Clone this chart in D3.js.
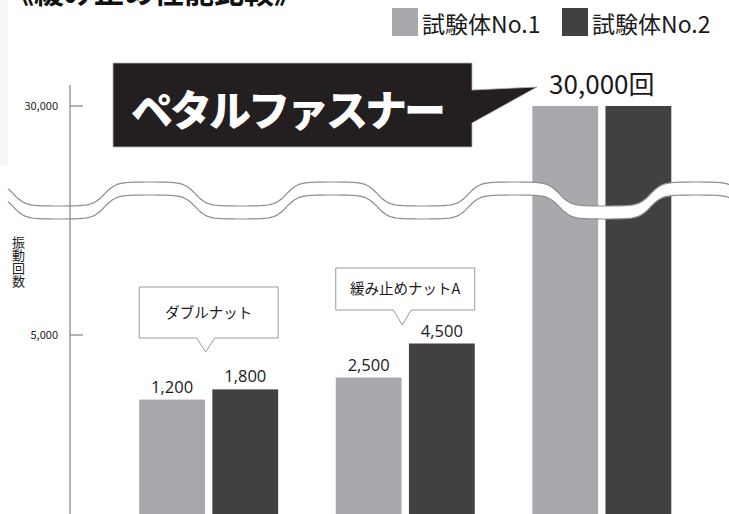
<!DOCTYPE html>
<html>
<head>
<meta charset="utf-8">
<script src="https://cdn.jsdelivr.net/npm/d3@7"></script>
<style>
body { margin: 0; background: #fff; }
svg { display: block; font-family: "Noto Sans CJK JP", "Noto Sans", sans-serif; }
</style>
</head>
<body>
<div id="chart"></div>
<script>
// data
var groups = ["ダブルナット", "緩み止めナットA", "ペタルファスナー"];
var seriesNames = ["試験体No.1", "試験体No.2"];
var no1Values = [1200, 2500, 30000];
var no2Values = [1800, 4500, 30000];
var tickValues = [5000, 30000];
var seriesColors = ["#a7a9ac", "#414042"];
var titleText = "《緩み止め性能比較》";
var axisLabel = "振動回数";
var unitText = "回";

main();

function main() {
    var W = 729, H = 514;
    var fmt = d3.format(",");

    var svg = d3.select("#chart").append("svg")
        .attr("width", W)
        .attr("height", H);

    // faint strip on the left edge of the scan
    svg.append("rect")
        .attr("x", 0).attr("y", 0)
        .attr("width", 8).attr("height", 165)
        .attr("fill", "#f6f6fb");

    // title, mostly cut off at the top (as in the scan)
    svg.append("text")
        .attr("x", 4).attr("y", 3)
        .attr("font-size", 30)
        .attr("font-weight", 700)
        .attr("fill", "#111")
        .text(titleText);

    var x0 = d3.scaleBand().domain(groups)
        .range([110.5, 700]).paddingInner(0.293).paddingOuter(0.146);
    var x1 = d3.scaleBand().domain(seriesNames)
        .range([0, x0.bandwidth()]).paddingInner(0.1);

    // broken axis: lower part and upper part
    var yLow = d3.scaleLinear().domain([0, 5000]).range([420, 335]);
    var yHigh = d3.scaleLinear().domain([20000, 30000]).range([200, 106]);
    function y(v) {
        return v <= 5000 ? yLow(v) : yHigh(v);
    }

    var rows = groups.map(function (g, i) {
        return { group: g, values: [no1Values[i], no2Values[i]] };
    });

    // bars (they run off the bottom of the picture)
    var gGroups = svg.selectAll(".grp")
        .data(rows)
        .enter().append("g")
        .attr("class", "grp")
        .attr("transform", function (d) { return "translate(" + x0(d.group) + ",0)"; });

    gGroups.selectAll("rect")
        .data(function (d) {
            return d.values.map(function (v, j) { return { s: seriesNames[j], v: v, j: j }; });
        })
        .enter().append("rect")
        .attr("x", function (d) { return x1(d.s); })
        .attr("y", function (d) { return y(d.v); })
        .attr("width", x1.bandwidth())
        .attr("height", function (d) { return H + 5 - y(d.v); })
        .attr("fill", function (d) { return seriesColors[d.j]; });

    // value labels for the small bars
    gGroups.filter(function (d) { return d3.max(d.values) <= 5000; })
        .selectAll(".val")
        .data(function (d) {
            return d.values.map(function (v, j) { return { s: seriesNames[j], v: v }; });
        })
        .enter().append("text")
        .attr("class", "val")
        .attr("x", function (d) { return x1(d.s) + x1.bandwidth() / 2; })
        .attr("y", function (d) { return y(d.v) - 7; })
        .attr("text-anchor", "middle")
        .attr("font-family", "'Open Sans', sans-serif")
        .attr("font-size", 16.5)
        .attr("fill", "#1a1a1a")
        .text(function (d) { return fmt(d.v); });

    // big label above the tall pair
    var top = rows[2];
    svg.append("text")
        .attr("x", x0(top.group) + x0.bandwidth() / 2)
        .attr("y", y(d3.max(top.values)) - 12)
        .attr("text-anchor", "middle")
        .attr("font-size", 26)
        .attr("fill", "#1a1a1a")
        .text(fmt(d3.max(top.values)) + unitText);

    // wavy break band
    var waveX = d3.range(8, W + 2, 2);
    function waveY(x) {
        var c = Math.cos(2 * Math.PI * (x - 150) / 182);
        return 194 - 12 * Math.tanh(2.5 * c) / Math.tanh(2.5);
    }
    var band = d3.area()
        .x(function (d) { return d; })
        .y0(function (d) { return waveY(d) + 13; })
        .y1(function (d) { return waveY(d); })
        .curve(d3.curveBasis);
    svg.append("path")
        .attr("d", band(waveX))
        .attr("fill", "#fff");
    var edge = d3.line().curve(d3.curveBasis);
    [0, 13].forEach(function (off) {
        svg.append("path")
            .attr("d", edge(waveX.map(function (x) { return [x, waveY(x) + off]; })))
            .attr("fill", "none")
            .attr("stroke", "#8e8e8e")
            .attr("stroke-width", 1.2);
    });

    // y axis with ticks pointing inward
    var axisX = 70;
    svg.append("line")
        .attr("x1", axisX).attr("x2", axisX)
        .attr("y1", y(d3.max(tickValues)) - 21).attr("y2", H)
        .attr("stroke", "#8a8a8a")
        .attr("stroke-width", 1.3);
    var ticks = svg.selectAll(".tick")
        .data(tickValues)
        .enter().append("g")
        .attr("class", "tick")
        .attr("transform", function (d) { return "translate(0," + y(d) + ")"; });
    ticks.append("line")
        .attr("x1", axisX).attr("x2", axisX + 13)
        .attr("stroke", "#8a8a8a")
        .attr("stroke-width", 1.3);
    ticks.append("text")
        .attr("x", 58).attr("y", 4)
        .attr("text-anchor", "end")
        .attr("font-size", 11)
        .attr("fill", "#222")
        .text(function (d) { return fmt(d); });

    // vertical axis title, written top to bottom
    svg.append("text")
        .attr("x", 18.5).attr("y", 236)
        .style("writing-mode", "vertical-rl")
        .attr("font-size", 13)
        .attr("fill", "#222")
        .text(axisLabel);

    // speech callouts for the two nut types
    var boxes = [{ top: 287, bottom: 338, tip: 352 }, { top: 268, bottom: 310, tip: 325 }];
    boxes.forEach(function (b, i) {
        var g = groups[i];
        var l = x0(g), r = x0(g) + x0.bandwidth(), cx = (l + r) / 2 - 3;
        var p = d3.path();
        p.moveTo(l, b.top);
        p.lineTo(r, b.top);
        p.lineTo(r, b.bottom);
        p.lineTo(cx + 9, b.bottom);
        p.lineTo(cx, b.tip);
        p.lineTo(cx - 9, b.bottom);
        p.lineTo(l, b.bottom);
        p.closePath();
        svg.append("path")
            .attr("d", p.toString())
            .attr("fill", "#fff")
            .attr("stroke", "#9a9a9a")
            .attr("stroke-width", 1);
        svg.append("text")
            .attr("x", (l + r) / 2)
            .attr("y", (b.top + b.bottom) / 2 + 5)
            .attr("text-anchor", "middle")
            .attr("font-size", 14.5)
            .attr("fill", "#1a1a1a")
            .text(g);
    });

    // black callout for the product
    var bp = d3.path();
    bp.moveTo(113, 63);
    bp.lineTo(472, 63);
    bp.lineTo(472, 90);
    bp.lineTo(537, 87);
    bp.lineTo(472, 123);
    bp.lineTo(472, 147);
    bp.lineTo(113, 147);
    bp.closePath();
    svg.append("path")
        .attr("d", bp.toString())
        .attr("fill", "#231f20")
        .attr("stroke", "#b5b5b5")
        .attr("stroke-width", 0.8);
    svg.append("text")
        .attr("x", 287).attr("y", 126)
        .attr("text-anchor", "middle")
        .attr("font-size", 42)
        .attr("font-weight", 900)
        .attr("letter-spacing", -3)
        .attr("fill", "#fff")
        .text(groups[2]);

    // legend
    var legend = svg.selectAll(".leg")
        .data(seriesNames)
        .enter().append("g")
        .attr("class", "leg")
        .attr("transform", function (d, i) { return "translate(" + (392 + i * 170) + ",8)"; });
    legend.append("rect")
        .attr("width", 26).attr("height", 28)
        .attr("fill", function (d, i) { return seriesColors[i]; });
    legend.append("text")
        .attr("x", 30).attr("y", 25)
        .attr("font-size", 23)
        .attr("fill", "#1a1a1a")
        .text(function (d) { return d; });
}
</script>
</body>
</html>
